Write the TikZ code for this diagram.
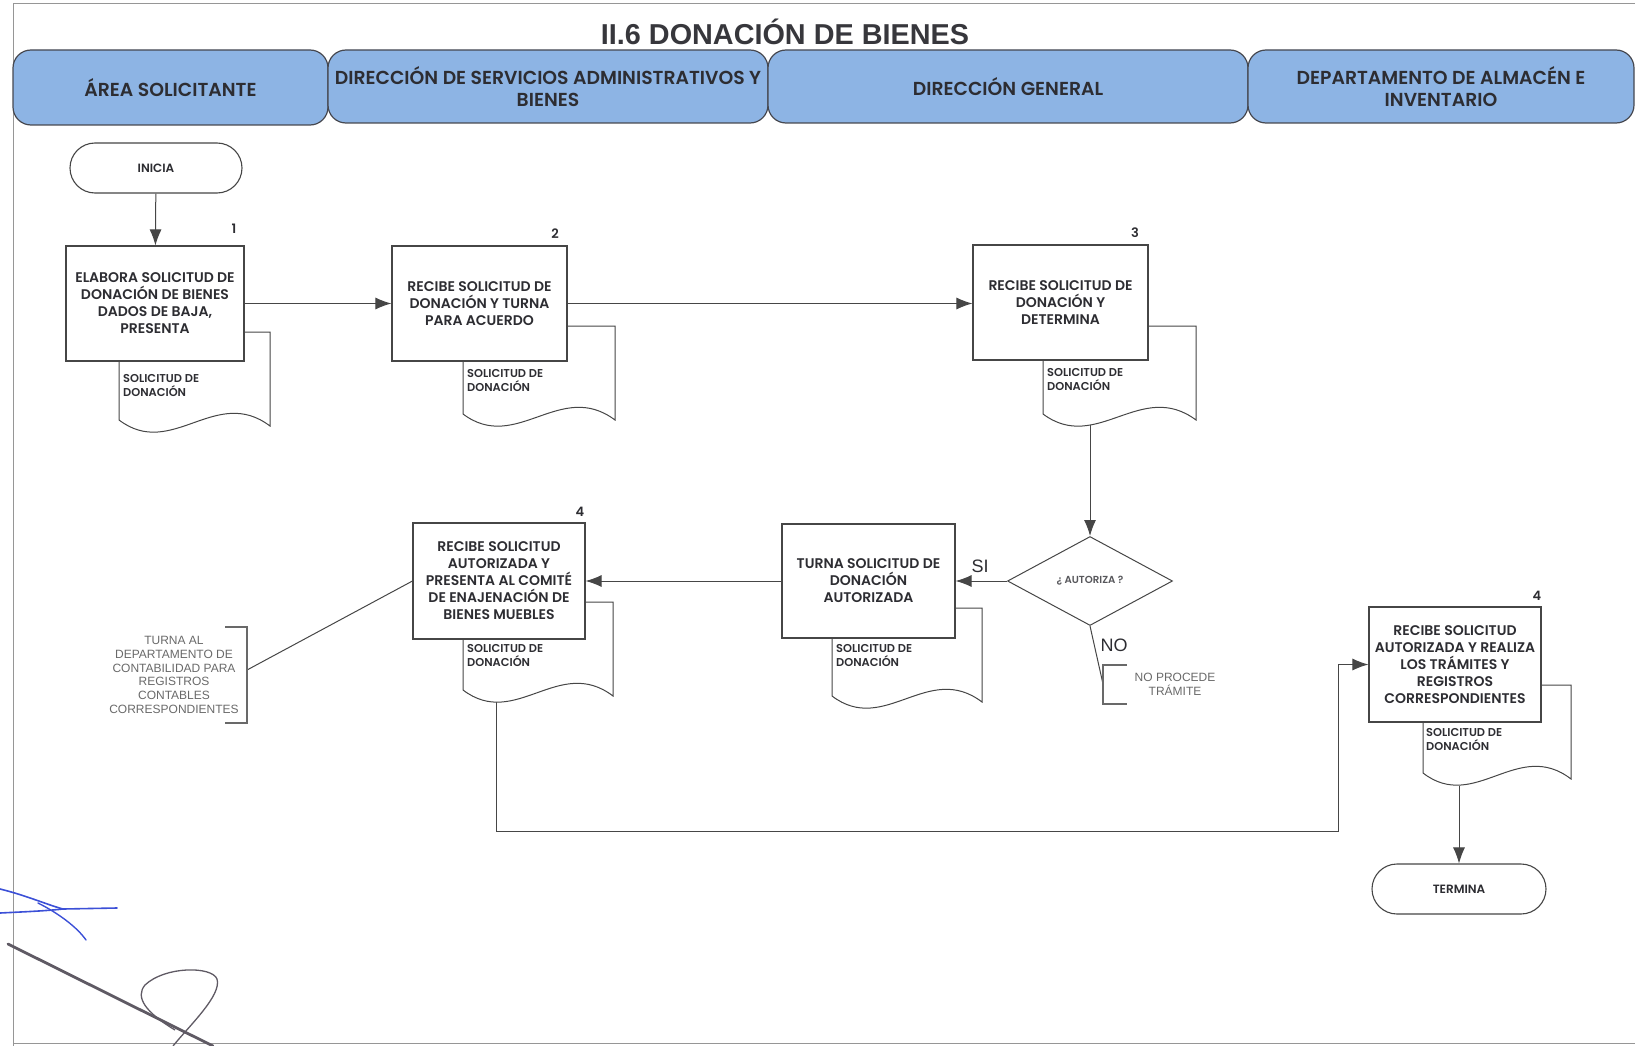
\documentclass[tikz,border=0pt]{standalone}
\usepackage{fontspec}
\setmainfont{Liberation Sans}
\newfontfamily\gothic{Poppins}[BoldFont={* SemiBold}]
\usetikzlibrary{arrows.meta,calc,shapes.geometric}
\pgfdeclarelayer{bg}
\pgfsetlayers{bg,main}

\definecolor{headfill}{RGB}{141,180,228}
\definecolor{headline}{RGB}{70,72,80}
\definecolor{linec}{RGB}{70,70,70}
\definecolor{txt}{RGB}{45,45,50}
\definecolor{notetxt}{RGB}{105,105,105}
\definecolor{framec}{RGB}{150,150,150}
\definecolor{sigblue}{RGB}{60,80,215}
\definecolor{siggray}{RGB}{95,90,100}

% document sheet: name, left, top, right, base of the wavy edge
\newcommand\docsheet[5]{%
  \draw[sheet] (#2,#5) -- (#2,#3) -- (#4,#3) -- (#4,{#5+6})
    .. controls ({#2+0.64*(#4-#2)},{#5-35}) and ({#2+0.35*(#4-#2)},{#5+40}) .. (#2,#5) -- cycle;
  \coordinate (#1) at (#2,#3);
}

\tikzset{
  lanehead/.style={draw=headline, line width=1.2pt, fill=headfill, rounded corners=18pt,
    align=center, text=txt, inner sep=0pt,
    font=\gothic\bfseries\fontsize{18.8}{22}\selectfont},
  proc/.style={draw=linec, line width=1.1pt, fill=white, align=center, text=txt,
    inner sep=0pt, font=\gothic\bfseries\fontsize{14}{17}\selectfont},
  term/.style={proc, rounded corners=25pt, minimum height=50pt,
    font=\gothic\bfseries\fontsize{12}{14}\selectfont},
  decision/.style={draw=linec, line width=1pt, fill=white, diamond, inner sep=0pt,
    text=txt!80, font=\gothic\bfseries\fontsize{10.2}{12}\selectfont},
  sheet/.style={draw=linec, line width=1pt, fill=white},
  sheettext/.style={anchor=north west, inner sep=0pt, align=left, text=txt,
    font=\gothic\bfseries\fontsize{11.4}{14.6}\selectfont},
  stepnum/.style={inner sep=0pt, text=txt, font=\gothic\bfseries\fontsize{13}{15}\selectfont},
  flow/.style={draw=linec, line width=1pt},
  arr/.style={flow, -{Latex[length=16pt,width=12pt]}},
  note/.style={align=center, inner sep=0pt, text=notetxt,
    font=\fontsize{12}{13.8}\selectfont},
  bracket/.style={draw=notetxt, line width=1.1pt},
  branch/.style={inner sep=0pt, text=txt, font=\fontsize{18}{20}\selectfont},
}

\begin{document}
\begin{tikzpicture}[x=1pt,y=-1pt]
\useasboundingbox (0,0) rectangle (1635,1046);

% page frame
\draw[framec, line width=1pt] (1635,4) -- (13,4) -- (13,1046);
\draw[framec, line width=1pt] (13,1043) -- (1635,1043);

% title
\node[font=\bfseries\fontsize{28.8}{30}\selectfont, text={rgb,255:red,55;green,55;blue,60}] (title) at (785,32) {II.6 DONACIÓN DE BIENES};

% lane headers
\node[lanehead, minimum width=315pt, minimum height=75pt] (h1) at (170.5,87.5) {ÁREA SOLICITANTE};
\node[lanehead, minimum width=440pt, minimum height=73pt] (h2) at (548,86.5) {DIRECCIÓN DE SERVICIOS ADMINISTRATIVOS Y\\BIENES};
\node[lanehead, minimum width=480pt, minimum height=73pt] (h3) at (1008,86.5) {DIRECCIÓN GENERAL};
\node[lanehead, minimum width=386pt, minimum height=73pt] (h4) at (1441,86.5) {DEPARTAMENTO DE ALMACÉN E\\INVENTARIO};

% document sheets behind the process boxes
\docsheet{s1}{119}{332}{270}{420}
\docsheet{s2}{463}{326}{615}{414}
\docsheet{s3}{1043}{326}{1196}{414}
\docsheet{sT}{832}{608}{982}{696}
\docsheet{s4}{463}{602}{613}{690}
\docsheet{s5}{1423}{685}{1571}{773}

\node[sheettext] (t1) at (123,374) {SOLICITUD DE\\DONACIÓN};
\node[sheettext] (t2) at (467,369) {SOLICITUD DE\\DONACIÓN};
\node[sheettext] (t3) at (1047,368) {SOLICITUD DE\\DONACIÓN};
\node[sheettext] (tT) at (836,644) {SOLICITUD DE\\DONACIÓN};
\node[sheettext] (t4) at (467,644) {SOLICITUD DE\\DONACIÓN};
\node[sheettext] (t5) at (1426,728) {SOLICITUD DE\\DONACIÓN};

% terminals
\node[term, minimum width=172pt] (ini) at (156,168) {INICIA};
\node[term, minimum width=174pt] (fin) at (1459,889) {TERMINA};

% process boxes
\node[proc, minimum width=178pt, minimum height=115pt] (b1) at (155,303.5)
  {ELABORA SOLICITUD DE\\DONACIÓN DE BIENES\\DADOS DE BAJA,\\PRESENTA};
\node[proc, minimum width=175pt, minimum height=115pt] (b2) at (479.5,303.5)
  {RECIBE SOLICITUD DE\\DONACIÓN Y TURNA\\PARA ACUERDO};
\node[proc, minimum width=175pt, minimum height=115pt] (b3) at (1060.5,302.5)
  {RECIBE SOLICITUD DE\\DONACIÓN Y\\DETERMINA};
\node[proc, minimum width=173pt, minimum height=114pt] (bT) at (868.5,581)
  {TURNA SOLICITUD DE\\DONACIÓN\\AUTORIZADA};
\node[proc, minimum width=172pt, minimum height=116pt] (b4) at (499,581)
  {RECIBE SOLICITUD\\AUTORIZADA Y\\PRESENTA AL COMITÉ\\DE ENAJENACIÓN DE\\BIENES MUEBLES};
\node[proc, minimum width=172pt, minimum height=115pt] (b5) at (1455,664.5)
  {RECIBE SOLICITUD\\AUTORIZADA Y REALIZA\\LOS TRÁMITES Y\\REGISTROS\\CORRESPONDIENTES};

% step numbers
\node[stepnum] (n1) at (234,229) {1};
\node[stepnum] (n2) at (555,234) {2};
\node[stepnum] (n3) at (1135,233) {3};
\node[stepnum] (n4) at (580,512) {4};
\node[stepnum] (n5) at (1537,596) {4};

% decision
\node[decision, minimum width=165pt, minimum height=89pt] (dec) at (1090,581) {¿ AUTORIZA ?};

% side notes
\node[note] (noteA) at (174,675) {TURNA AL\\DEPARTAMENTO DE\\CONTABILIDAD PARA\\REGISTROS\\CONTABLES\\CORRESPONDIENTES};
\draw[bracket] (225,627) -- (247,627) -- (247,723) -- (225,723);
\coordinate (annA) at (247,670);

\node[note, font=\fontsize{12}{14.5}\selectfont] (noteB) at (1175,684.5) {NO PROCEDE\\TRÁMITE};
\draw[bracket] (1127,665) -- (1103,665) -- (1103,704) -- (1127,704);
\coordinate (annB) at (1103,684);

% branch labels
\node[branch] (si) at (980,566) {SI};
\node[branch] (no) at (1114,645) {NO};

% connectors
\coordinate (c3) at (1090,425);
\coordinate (c4) at (496,702);
\coordinate (c5) at (1459,786);
\coordinate (turn) at (1338,831);
\begin{pgfonlayer}{bg}
\draw[arr] (ini) -- (b1);
\draw[arr] (b1.east) -- (b1.east -| b2.west);
\draw[arr] (b2.east) -- (b2.east -| b3.west);
\draw[arr] (c3) -- (dec.north);
\draw[arr] (dec.west) -- (bT.east);
\draw[arr] (bT.west) -- (b4.east);
\draw[flow] (dec.south) -- (annB);
\draw[flow] (b4.west) -- (annA);
\draw[arr] (c4) |- (turn) |- (b5.west);
\draw[arr] (c5) -- (fin.north);
\end{pgfonlayer}

% signatures
\draw[sigblue, line width=1.6pt, line cap=round] (0,889) .. controls (25,895) and (48,905) .. (63,909) -- (117,908);
\draw[sigblue, line width=1.6pt, line cap=round] (0,913) .. controls (20,912) and (45,911) .. (63,909);
\draw[sigblue, line width=1.4pt, line cap=round] (38,903) .. controls (58,913) and (77,927) .. (86,940);
\draw[siggray, line width=2.8pt, line cap=round] (8,944) -- (213,1046);
\draw[siggray, line width=1.3pt] (173,1046) .. controls (190,1025) and (222,995) .. (217,979)
  .. controls (212,966) and (165,966) .. (145,985) .. controls (135,997) and (145,1012) .. (175,1030);
\end{tikzpicture}
\end{document}
